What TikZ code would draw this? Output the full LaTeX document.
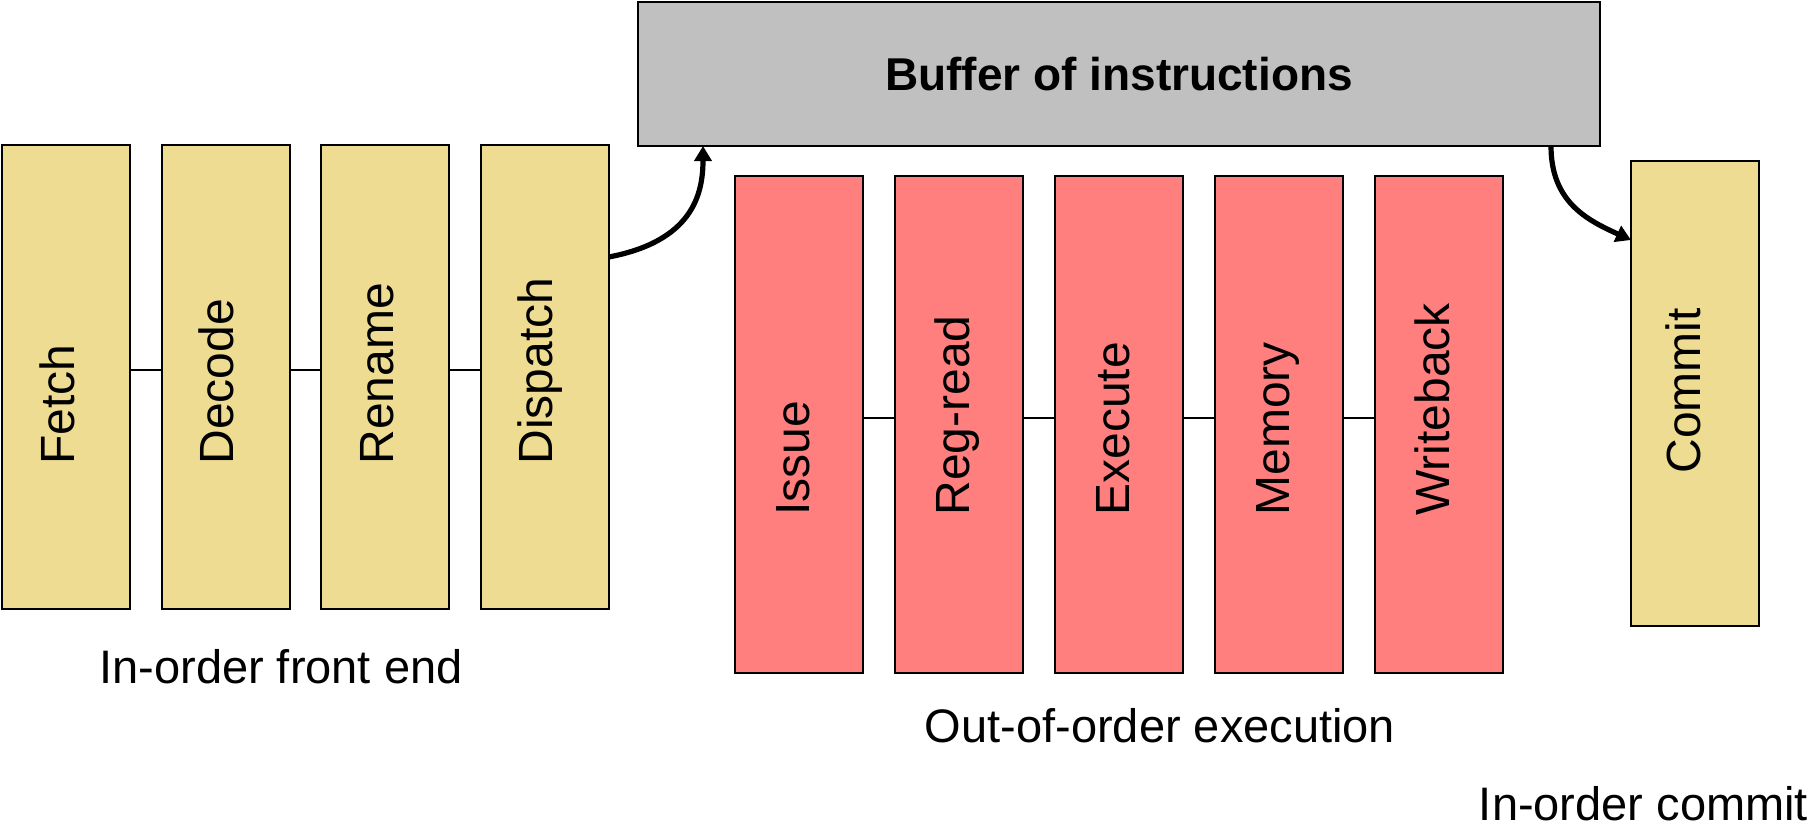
\documentclass[tikz,border=0pt]{standalone}
\usepackage{fontspec}
\setmainfont{Liberation Sans}
\usepackage{xcolor}
\usepackage{tikz}
\usetikzlibrary{arrows.meta,positioning}
\definecolor{stagey}{HTML}{EEDC92}
\definecolor{stager}{HTML}{FF7F7F}
\definecolor{bufgray}{HTML}{C0C0C0}
\tikzset{
  front/.style  ={draw=black,line width=1pt,fill=stagey,minimum width=64pt,
                  minimum height=232pt,inner sep=0pt,outer sep=0pt},
  ooo/.style    ={draw=black,line width=1pt,fill=stager,minimum width=64pt,
                  minimum height=248.5pt,inner sep=0pt,outer sep=0pt},
  buf/.style    ={draw=black,line width=1.1pt,fill=bufgray,minimum width=481pt,
                  minimum height=72pt,inner sep=0pt,outer sep=0pt,
                  font=\fontsize{23pt}{27pt}\selectfont\bfseries},
  vtext/.style  ={rotate=90,anchor=base west,inner sep=0pt,
                  font=\fontsize{24pt}{28pt}\selectfont},
  grouplbl/.style={anchor=base,inner sep=0pt,font=\fontsize{23.5pt}{28pt}\selectfont},
  link/.style   ={line width=1pt,draw=black},
  flow/.style   ={-{Triangle[length=7.5pt,width=8.5pt]},line width=2.6pt,draw=black}
}
\begin{document}
\begin{tikzpicture}[node distance=15.8pt]
    \useasboundingbox (0,0) rectangle (910pt,-415pt);
    \node[front,anchor=north west] (fetch) at (1pt,-72.5pt) {};
    \node[front,right=of fetch] (decode) {};
    \node[front,right=of decode] (rename) {};
    \node[front,right=of rename] (dispatch) {};
    \node[buf,anchor=north west] (buffer) at (319pt,-1pt) {Buffer of instructions};
    \node[ooo,anchor=north west] (issue) at (367.5pt,-88pt) {};
    \node[ooo,right=16pt of issue] (regread) {};
    \node[ooo,right=16pt of regread] (execute) {};
    \node[ooo,right=16pt of execute] (memory) {};
    \node[ooo,right=16pt of memory] (writeback) {};
    \node[front,anchor=north west,minimum height=232.5pt] (commit) at (815.5pt,-80.5pt) {};
    \node[vtext] (fetchtxt) at ([xshift=4pt,yshift=72pt]fetch.south) {Fetch};
    \node[vtext] (decodetxt) at ([xshift=4pt,yshift=72pt]decode.south) {Decode};
    \node[vtext] (renametxt) at ([xshift=4pt,yshift=72pt]rename.south) {Rename};
    \node[vtext] (dispatchtxt) at ([xshift=4pt,yshift=72pt]dispatch.south) {Dispatch};
    \node[vtext] (issuetxt) at ([xshift=5pt,yshift=78.5pt]issue.south) {Issue};
    \node[vtext] (regreadtxt) at ([xshift=5pt,yshift=78.5pt]regread.south) {Reg-read};
    \node[vtext] (executetxt) at ([xshift=5pt,yshift=78.5pt]execute.south) {Execute};
    \node[vtext] (memorytxt) at ([xshift=5pt,yshift=78.5pt]memory.south) {Memory};
    \node[vtext] (writebacktxt) at ([xshift=5pt,yshift=78.5pt]writeback.south) {Writeback};
    \node[vtext] (committxt) at ([xshift=2.5pt,yshift=76pt]commit.south) {Commit};
    \draw[link] ([yshift=3.5pt]fetch.east) -- ([yshift=3.5pt]decode.west);
    \draw[link] ([yshift=3.5pt]decode.east) -- ([yshift=3.5pt]rename.west);
    \draw[link] ([yshift=3.5pt]rename.east) -- ([yshift=3.5pt]dispatch.west);
    \draw[link] ([yshift=3.5pt]issue.east) -- ([yshift=3.5pt]regread.west);
    \draw[link] ([yshift=3.5pt]regread.east) -- ([yshift=3.5pt]execute.west);
    \draw[link] ([yshift=3.5pt]execute.east) -- ([yshift=3.5pt]memory.west);
    \draw[link] ([yshift=3.5pt]memory.east) -- ([yshift=3.5pt]writeback.west);
    \draw[flow] ([yshift=60pt]dispatch.east) .. controls +(42pt,8pt) and +(0,-24pt) .. ([xshift=32.5pt]buffer.south west);
    \draw[flow] ([xshift=-24.5pt]buffer.south east) .. controls +(0,-28pt) and +(-22pt,10pt) .. ([yshift=76.75pt]commit.west);
    \node[grouplbl] (frontlbl) at (140.5pt,-341.5pt) {In-order front end};
    \node[grouplbl] (ooolbl) at (580pt,-371pt) {Out-of-order execution};
    \node[grouplbl] (commitlbl) at (821.75pt,-410pt) {In-order commit};
  \end{tikzpicture}
\end{document}
